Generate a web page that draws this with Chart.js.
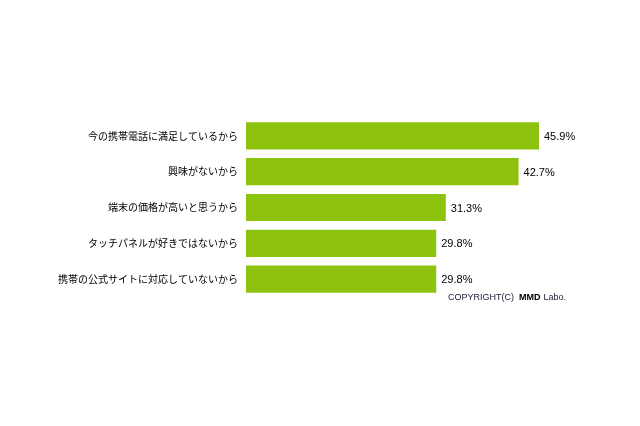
<!DOCTYPE html>
<html>
<head>
<meta charset="utf-8">
<script src="https://cdn.jsdelivr.net/npm/chart.js@4/dist/chart.umd.min.js"></script>
<style>
  html, body { margin: 0; padding: 0; background: #fff; }
  #wrap { width: 640px; height: 426px; }
</style>
</head>
<body>
<div id="wrap"><canvas id="chart" width="640" height="426"></canvas></div>
<script>
// Reasons (survey answers) and share in %
const categories = [
    '今の携帯電話に満足しているから',
    '興味がないから',
    '端末の価格が高いと思うから',
    'タッチパネルが好きではないから',
    '携帯の公式サイトに対応していないから'
];
const values = [45.9, 42.7, 31.3, 29.8, 29.8];
const copyrightText = 'COPYRIGHT(C)';
const brandText = 'MMD';
const brandTail = 'Labo.';

const barColor = '#8DC30F';

// value labels at the end of each bar
const valueLabels = {
    id: 'valueLabels',
    afterDatasetsDraw(chart) {
        const ctx = chart.ctx;
        const meta = chart.getDatasetMeta(0);
        ctx.save();
        ctx.font = '11px "Liberation Sans", Arial, sans-serif';
        ctx.fillStyle = '#000';
        ctx.textBaseline = 'middle';
        ctx.textAlign = 'left';
        meta.data.forEach((bar, i) => {
            ctx.fillText(values[i].toFixed(1) + '%', bar.x + 5, bar.y + 1);
        });
        ctx.restore();
    }
};

// copyright line under the last bar
const copyright = {
    id: 'copyright',
    afterDraw(chart) {
        const ctx = chart.ctx;
        const meta = chart.getDatasetMeta(0);
        const last = meta.data[meta.data.length - 1];
        const y = last.y + last.height / 2 + 5;
        let x = 448;
        ctx.save();
        ctx.textBaseline = 'middle';
        ctx.textAlign = 'left';
        ctx.fillStyle = '#1a1a33';
        ctx.font = '9px "Liberation Sans", Arial, sans-serif';
        ctx.fillText(copyrightText, x, y);
        x += ctx.measureText(copyrightText).width + 5;
        ctx.font = 'bold 9px "Liberation Sans", Arial, sans-serif';
        ctx.fillStyle = '#000';
        ctx.fillText(brandText, x, y);
        x += ctx.measureText(brandText).width + 3;
        ctx.font = '9px "Liberation Sans", Arial, sans-serif';
        ctx.fillStyle = '#1a1a33';
        ctx.fillText(brandTail, x, y);
        ctx.restore();
    }
};

new Chart(document.getElementById('chart'), {
    type: 'bar',
    data: {
        labels: categories,
        datasets: [{
            data: values,
            backgroundColor: barColor,
            borderWidth: 0,
            barPercentage: 0.76,
            categoryPercentage: 1
        }]
    },
    options: {
        indexAxis: 'y',
        responsive: false,
        animation: false,
        devicePixelRatio: 1,
        layout: { padding: { top: 118, bottom: 129, left: 0, right: 11 } },
        plugins: {
            legend: { display: false },
            tooltip: { enabled: false }
        },
        scales: {
            x: {
                display: false,
                min: 0,
                max: 60
            },
            y: {
                afterFit(scale) { scale.width = 246; },
                grid: { display: false, drawTicks: false },
                border: { display: false },
                ticks: {
                    padding: 8,
                    color: '#000',
                    font: { family: '"Noto Sans CJK JP", sans-serif', size: 10 }
                }
            }
        }
    },
    plugins: [valueLabels, copyright]
});
</script>
</body>
</html>
